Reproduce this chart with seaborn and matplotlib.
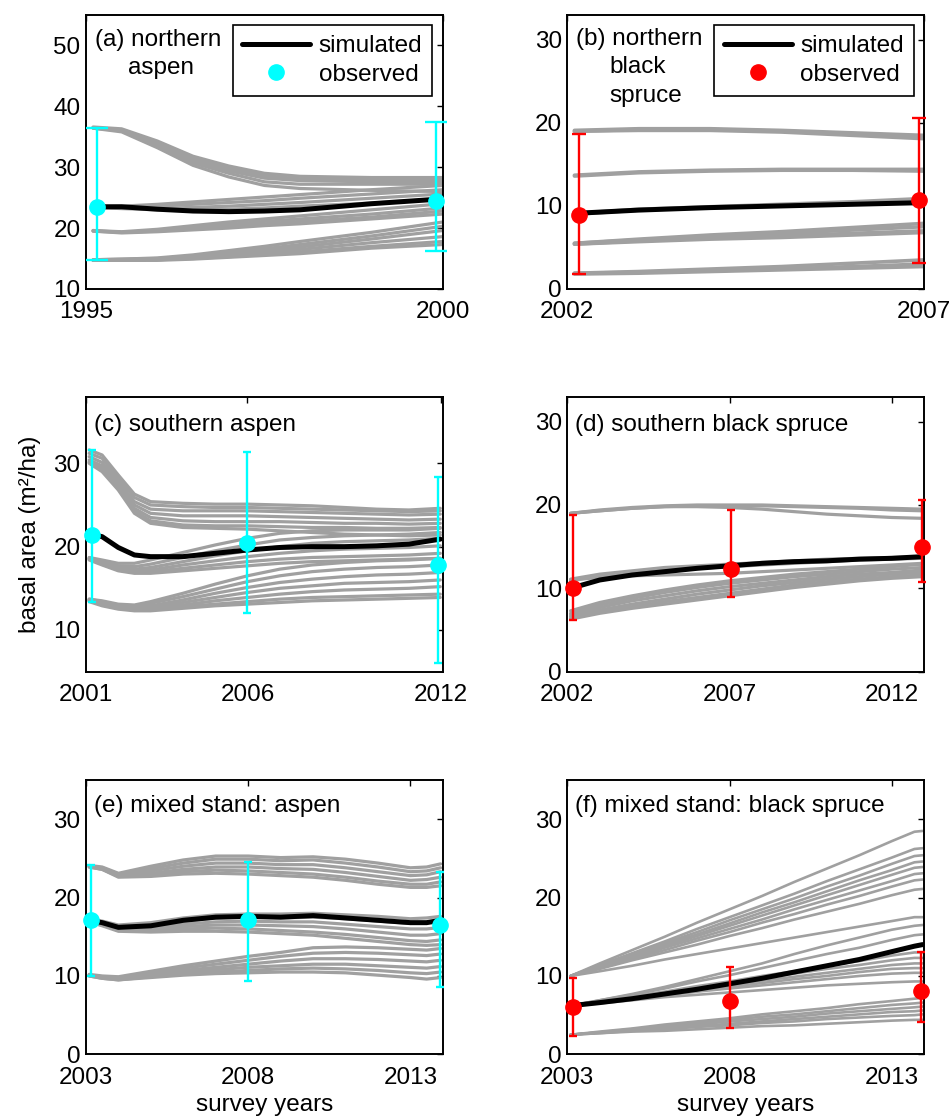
import numpy as np
import pandas as pd
import seaborn as sns
import matplotlib.pyplot as plt
from matplotlib.lines import Line2D

# ---------------- (a) northern aspen ----------------
years_a = [1995.1, 1995.5, 1996.0, 1996.5, 1997.0, 1997.5, 1998.0, 1999.0, 2000.0]
runs_a = [
    [36.6, 36.3, 34.3, 31.8, 30.2, 29.0, 28.5, 28.3, 28.3],
    [36.5, 36.1, 34.0, 31.4, 29.8, 28.6, 28.1, 28.0, 28.0],
    [36.4, 36.0, 33.7, 31.0, 29.4, 28.2, 27.8, 27.6, 27.6],
    [36.5, 36.0, 33.5, 30.7, 29.0, 27.6, 27.2, 27.2, 27.2],
    [36.4, 35.8, 33.2, 30.3, 28.4, 27.0, 26.5, 26.2, 26.0],
    [23.5, 23.6, 23.9, 24.3, 24.7, 25.1, 25.5, 26.3, 27.0],
    [23.5, 23.5, 23.6, 23.9, 24.2, 24.5, 24.9, 25.6, 26.3],
    [23.4, 23.3, 23.2, 23.4, 23.6, 23.9, 24.2, 24.9, 25.6],
    [23.4, 23.2, 23.0, 23.0, 23.1, 23.3, 23.6, 24.1, 24.8],
    [19.6, 19.4, 19.8, 20.4, 21.0, 21.5, 22.0, 23.0, 24.0],
    [19.6, 19.3, 19.6, 20.1, 20.6, 21.1, 21.5, 22.3, 23.3],
    [19.5, 19.3, 19.5, 19.9, 20.3, 20.7, 21.1, 21.8, 22.8],
    [19.5, 19.2, 19.4, 19.7, 20.0, 20.4, 20.7, 21.5, 22.3],
    [14.8, 14.9, 15.1, 15.6, 16.3, 17.0, 17.8, 19.3, 21.0],
    [14.8, 14.9, 15.0, 15.4, 16.0, 16.6, 17.3, 18.7, 20.3],
    [14.7, 14.8, 14.9, 15.3, 15.8, 16.3, 16.9, 18.2, 19.6],
    [14.7, 14.7, 14.8, 15.1, 15.5, 16.0, 16.5, 17.6, 18.6],
    [14.7, 14.7, 14.8, 15.0, 15.3, 15.7, 16.1, 17.0, 17.8],
    [14.7, 14.7, 14.7, 14.9, 15.2, 15.5, 15.8, 16.7, 17.3],
]
sim_a = [23.5, 23.5, 23.1, 22.8, 22.7, 22.8, 23.0, 24.0, 24.8]
obs_years_a = [1995.15, 1999.9]
obs_a = [23.5, 24.5]
obs_lo_a = [14.7, 16.3]
obs_hi_a = [36.5, 37.4]

# ---------------- (b) northern black spruce ----------------
years_b = [2002.1, 2003.0, 2004.0, 2005.0, 2006.0, 2007.0]
runs_b = [
    [19.1, 19.3, 19.3, 19.1, 18.8, 18.5],
    [19.0, 19.2, 19.2, 19.0, 18.7, 18.3],
    [19.0, 19.1, 19.1, 18.9, 18.5, 18.1],
    [13.7, 14.1, 14.3, 14.4, 14.4, 14.4],
    [13.6, 14.0, 14.2, 14.3, 14.3, 14.2],
    [9.1, 9.6, 9.9, 10.2, 10.5, 10.9],
    [9.0, 9.5, 9.8, 10.0, 10.3, 10.6],
    [5.5, 6.0, 6.5, 6.9, 7.4, 7.9],
    [5.5, 5.9, 6.3, 6.7, 7.1, 7.5],
    [5.4, 5.8, 6.1, 6.4, 6.7, 7.0],
    [5.4, 5.7, 6.0, 6.2, 6.5, 6.8],
    [1.9, 2.1, 2.4, 2.7, 3.1, 3.5],
    [1.9, 2.0, 2.2, 2.4, 2.7, 3.0],
    [1.8, 1.9, 2.1, 2.3, 2.5, 2.7],
]
sim_b = [9.1, 9.5, 9.8, 10.0, 10.2, 10.4]
obs_years_b = [2002.16, 2006.92]
obs_b = [8.9, 10.7]
obs_lo_b = [1.8, 3.1]
obs_hi_b = [18.7, 20.6]

# ---------------- (c) southern aspen ----------------
years_c = [2001.1, 2001.5, 2002.0, 2002.5, 2003.0, 2004.0, 2005.0, 2006.0,
           2007.0, 2008.0, 2009.0, 2010.0, 2011.0, 2011.97]
runs_c = [
    [31.6, 31.0, 28.6, 26.3, 25.4, 25.2, 25.1, 25.1, 25.0, 24.9, 24.7, 24.5, 24.4, 24.6],
    [31.2, 30.6, 28.2, 25.9, 25.0, 24.8, 24.7, 24.7, 24.6, 24.5, 24.4, 24.3, 24.2, 24.3],
    [30.8, 30.1, 27.8, 25.4, 24.5, 24.3, 24.3, 24.3, 24.2, 24.1, 24.0, 23.9, 23.8, 23.9],
    [30.4, 29.7, 27.5, 25.0, 24.0, 23.7, 23.7, 23.7, 23.6, 23.5, 23.4, 23.3, 23.2, 23.3],
    [30.2, 29.4, 27.2, 24.6, 23.5, 23.1, 23.0, 23.0, 23.0, 22.9, 22.8, 22.8, 22.7, 22.8],
    [30.1, 29.2, 27.0, 24.3, 23.1, 22.6, 22.5, 22.5, 22.4, 22.3, 22.3, 22.2, 22.2, 22.3],
    [30.0, 29.0, 26.8, 24.0, 22.8, 22.3, 22.2, 22.1, 21.9, 21.7, 21.5, 21.4, 21.3, 21.4],
    [18.7, 18.4, 18.0, 18.0, 18.4, 19.3, 20.2, 21.0, 21.6, 21.9, 22.0, 22.0, 22.0, 22.2],
    [18.6, 18.2, 17.7, 17.6, 17.9, 18.7, 19.5, 20.2, 20.8, 21.1, 21.3, 21.4, 21.5, 21.7],
    [18.6, 18.1, 17.5, 17.3, 17.5, 18.2, 18.9, 19.5, 20.0, 20.4, 20.6, 20.7, 20.8, 21.0],
    [18.5, 18.0, 17.4, 17.1, 17.2, 17.8, 18.3, 18.8, 19.2, 19.5, 19.7, 19.8, 19.9, 20.1],
    [18.5, 17.9, 17.2, 16.9, 17.0, 17.4, 17.8, 18.2, 18.5, 18.7, 18.8, 18.9, 19.0, 19.2],
    [18.4, 17.8, 17.1, 16.8, 16.8, 17.1, 17.4, 17.7, 18.0, 18.2, 18.3, 18.4, 18.5, 18.6],
    [13.7, 13.5, 13.1, 13.0, 13.4, 14.4, 15.5, 16.5, 17.3, 17.8, 18.1, 18.3, 18.4, 18.6],
    [13.7, 13.4, 13.0, 12.9, 13.2, 14.0, 14.9, 15.8, 16.5, 17.0, 17.3, 17.5, 17.6, 17.8],
    [13.6, 13.3, 12.9, 12.7, 12.9, 13.6, 14.4, 15.1, 15.7, 16.1, 16.4, 16.6, 16.7, 16.9],
    [13.6, 13.2, 12.8, 12.6, 12.7, 13.3, 13.9, 14.5, 15.0, 15.3, 15.6, 15.7, 15.8, 16.0],
    [13.5, 13.1, 12.7, 12.5, 12.6, 13.0, 13.5, 13.9, 14.3, 14.6, 14.8, 14.9, 15.0, 15.2],
    [13.5, 13.0, 12.6, 12.4, 12.4, 12.8, 13.1, 13.4, 13.7, 13.9, 14.0, 14.1, 14.2, 14.3],
    [13.4, 12.9, 12.5, 12.3, 12.3, 12.6, 12.9, 13.1, 13.3, 13.5, 13.6, 13.7, 13.8, 13.9],
]
sim_c = [21.5, 21.2, 19.9, 19.0, 18.8, 18.8, 19.2, 19.6, 19.9, 20.0, 20.0, 20.1, 20.3, 20.9]
obs_years_c = [2001.18, 2006.0, 2011.9]
obs_c = [21.4, 20.4, 17.8]
obs_lo_c = [13.3, 12.0, 6.0]
obs_hi_c = [31.6, 31.3, 28.4]

# ---------------- (d) southern black spruce ----------------
years_d = [2002.1, 2003.0, 2004.0, 2005.0, 2006.0, 2007.0, 2008.0, 2009.0,
           2010.0, 2011.0, 2012.0, 2012.95]
runs_d = [
    [19.0, 19.4, 19.7, 19.9, 20.0, 20.0, 20.0, 19.9, 19.8, 19.7, 19.6, 19.5],
    [19.0, 19.3, 19.6, 19.8, 19.9, 19.9, 19.9, 19.8, 19.7, 19.6, 19.4, 19.3],
    [19.0, 19.3, 19.6, 19.8, 19.8, 19.7, 19.5, 19.2, 18.9, 18.7, 18.5, 18.4],
    [11.1, 11.7, 12.1, 12.5, 12.7, 12.9, 13.1, 13.3, 13.5, 13.6, 13.7, 13.8],
    [10.9, 11.5, 11.9, 12.2, 12.4, 12.6, 12.8, 13.0, 13.2, 13.4, 13.5, 13.6],
    [11.0, 11.3, 11.5, 11.6, 11.7, 11.8, 12.0, 12.2, 12.4, 12.6, 12.8, 13.0],
    [7.3, 8.3, 9.1, 9.8, 10.4, 10.9, 11.3, 11.7, 12.0, 12.3, 12.6, 12.9],
    [7.0, 8.0, 8.8, 9.5, 10.1, 10.6, 11.0, 11.4, 11.7, 12.0, 12.3, 12.5],
    [6.8, 7.7, 8.5, 9.1, 9.7, 10.2, 10.6, 11.0, 11.4, 11.7, 11.9, 12.2],
    [6.6, 7.4, 8.1, 8.7, 9.3, 9.8, 10.3, 10.7, 11.1, 11.4, 11.7, 11.9],
    [6.4, 7.2, 7.8, 8.4, 8.9, 9.4, 9.9, 10.4, 10.8, 11.1, 11.4, 11.6],
    [6.3, 7.0, 7.6, 8.1, 8.6, 9.1, 9.6, 10.1, 10.5, 10.9, 11.2, 11.4],
]
sim_d = [10.0, 11.0, 11.6, 12.0, 12.4, 12.7, 13.0, 13.2, 13.3, 13.5, 13.6, 13.8]
obs_years_d = [2002.16, 2007.03, 2012.93]
obs_d = [10.0, 12.3, 14.9]
obs_lo_d = [6.2, 9.0, 10.7]
obs_hi_d = [18.8, 19.4, 20.6]

# ---------------- (e) mixed stand: aspen ----------------
years_e = [2003.1, 2003.5, 2004.0, 2005.0, 2006.0, 2007.0, 2008.0, 2009.0,
           2010.0, 2011.0, 2012.0, 2013.0, 2013.5, 2013.93]
runs_e = [
    [24.1, 23.9, 23.1, 24.0, 24.8, 25.3, 25.3, 25.1, 25.2, 24.9, 24.4, 23.8, 23.9, 24.3],
    [24.0, 23.8, 23.0, 23.7, 24.4, 24.9, 24.9, 24.7, 24.8, 24.4, 23.9, 23.3, 23.4, 23.8],
    [24.0, 23.7, 22.9, 23.4, 24.0, 24.4, 24.4, 24.2, 24.2, 23.8, 23.3, 22.8, 22.9, 23.3],
    [24.0, 23.7, 22.8, 23.1, 23.6, 23.9, 23.9, 23.7, 23.6, 23.2, 22.7, 22.2, 22.3, 22.6],
    [23.9, 23.6, 22.7, 22.9, 23.3, 23.5, 23.4, 23.2, 23.0, 22.6, 22.1, 21.7, 21.7, 22.0],
    [23.9, 23.6, 22.6, 22.7, 23.0, 23.1, 23.0, 22.8, 22.6, 22.2, 21.7, 21.3, 21.3, 21.5],
    [17.2, 17.0, 16.5, 16.8, 17.4, 17.8, 17.9, 17.9, 18.0, 17.8, 17.6, 17.3, 17.4, 17.6],
    [17.1, 16.8, 16.3, 16.5, 17.0, 17.4, 17.5, 17.4, 17.5, 17.3, 17.0, 16.7, 16.8, 17.0],
    [17.1, 16.7, 16.1, 16.2, 16.6, 16.9, 17.0, 16.9, 16.9, 16.6, 16.3, 16.0, 16.0, 16.2],
    [17.0, 16.6, 15.9, 16.0, 16.3, 16.5, 16.5, 16.4, 16.3, 16.0, 15.6, 15.2, 15.2, 15.4],
    [17.0, 16.5, 15.8, 15.8, 16.0, 16.1, 16.0, 15.8, 15.6, 15.3, 14.9, 14.5, 14.4, 14.6],
    [16.9, 16.4, 15.7, 15.6, 15.7, 15.7, 15.6, 15.4, 15.2, 14.8, 14.4, 14.0, 13.9, 14.0],
    [10.2, 10.0, 9.9, 10.6, 11.3, 11.9, 12.5, 13.0, 13.6, 13.7, 13.6, 13.4, 13.3, 13.5],
    [10.1, 9.9, 9.8, 10.4, 11.0, 11.5, 12.0, 12.5, 12.9, 13.0, 12.9, 12.7, 12.6, 12.8],
    [10.1, 9.8, 9.7, 10.2, 10.7, 11.1, 11.5, 11.9, 12.2, 12.2, 12.1, 11.9, 11.8, 12.0],
    [10.1, 9.8, 9.6, 10.0, 10.4, 10.8, 11.1, 11.3, 11.5, 11.5, 11.3, 11.1, 11.0, 11.2],
    [10.0, 9.7, 9.5, 9.9, 10.2, 10.5, 10.7, 10.9, 11.0, 10.9, 10.7, 10.4, 10.3, 10.5],
    [10.0, 9.7, 9.5, 9.8, 10.1, 10.3, 10.4, 10.5, 10.5, 10.4, 10.1, 9.8, 9.6, 9.8],
]
sim_e = [17.1, 16.8, 16.2, 16.4, 17.1, 17.5, 17.6, 17.5, 17.7, 17.4, 17.1, 16.8, 16.8, 17.1]
obs_years_e = [2003.17, 2008.0, 2013.9]
obs_e = [17.1, 17.1, 16.5]
obs_lo_e = [10.0, 9.4, 8.6]
obs_hi_e = [24.2, 24.5, 23.2]

# ---------------- (f) mixed stand: black spruce ----------------
years_f = [2003.1, 2004.0, 2005.0, 2006.0, 2007.0, 2008.0, 2009.0, 2010.0,
           2011.0, 2012.0, 2013.0, 2013.7, 2013.95]
runs_f = [
    [10.0, 11.6, 13.3, 15.0, 16.8, 18.5, 20.2, 22.0, 23.7, 25.4, 27.2, 28.4, 28.5],
    [10.0, 11.4, 12.9, 14.4, 16.0, 17.5, 19.0, 20.5, 22.1, 23.6, 25.1, 26.2, 26.3],
    [10.0, 11.3, 12.7, 14.2, 15.6, 17.1, 18.5, 19.9, 21.4, 22.8, 24.3, 25.3, 25.4],
    [10.0, 11.2, 12.6, 14.0, 15.3, 16.7, 18.1, 19.4, 20.8, 22.2, 23.5, 24.5, 24.6],
    [10.0, 11.2, 12.5, 13.8, 15.1, 16.4, 17.7, 19.0, 20.3, 21.6, 22.9, 23.8, 23.9],
    [10.0, 11.1, 12.3, 13.6, 14.8, 16.0, 17.2, 18.5, 19.7, 20.9, 22.1, 23.0, 23.1],
    [10.0, 11.0, 12.2, 13.3, 14.5, 15.6, 16.8, 17.9, 19.1, 20.2, 21.4, 22.2, 22.3],
    [10.0, 10.9, 12.0, 13.0, 14.0, 15.1, 16.1, 17.2, 18.2, 19.2, 20.3, 21.0, 21.1],
    [10.0, 10.6, 11.3, 12.1, 12.8, 13.5, 14.2, 14.9, 15.6, 16.3, 17.0, 17.5, 17.5],
    [6.2, 6.9, 7.7, 8.6, 9.6, 10.6, 11.6, 12.8, 13.9, 14.9, 15.9, 16.4, 16.5],
    [6.2, 6.9, 7.6, 8.4, 9.3, 10.1, 11.0, 11.9, 12.8, 13.6, 14.6, 15.2, 15.3],
    [6.2, 6.8, 7.4, 8.0, 8.7, 9.3, 10.0, 10.6, 11.3, 11.9, 12.6, 13.0, 13.0],
    [6.2, 6.8, 7.3, 7.9, 8.5, 9.1, 9.7, 10.3, 10.9, 11.4, 12.0, 12.3, 12.3],
    [6.2, 6.7, 7.2, 7.8, 8.3, 8.8, 9.4, 9.9, 10.4, 10.9, 11.4, 11.6, 11.6],
    [6.2, 6.7, 7.2, 7.7, 8.2, 8.6, 9.1, 9.6, 10.0, 10.5, 10.9, 11.0, 11.0],
    [6.2, 6.6, 7.1, 7.5, 8.0, 8.4, 8.8, 9.2, 9.6, 10.0, 10.3, 10.4, 10.4],
    [6.2, 6.5, 6.9, 7.3, 7.6, 7.9, 8.2, 8.5, 8.8, 9.0, 9.2, 9.3, 9.3],
    [2.5, 2.9, 3.3, 3.8, 4.2, 4.6, 5.1, 5.5, 5.9, 6.4, 6.8, 7.1, 7.2],
    [2.5, 2.8, 3.2, 3.6, 4.0, 4.4, 4.8, 5.1, 5.5, 5.9, 6.3, 6.5, 6.6],
    [2.5, 2.8, 3.2, 3.5, 3.8, 4.2, 4.5, 4.8, 5.2, 5.5, 5.8, 6.0, 6.1],
    [2.5, 2.8, 3.1, 3.4, 3.6, 3.9, 4.2, 4.5, 4.8, 5.1, 5.4, 5.5, 5.6],
    [2.5, 2.7, 3.0, 3.2, 3.5, 3.7, 4.0, 4.2, 4.5, 4.7, 4.9, 5.0, 5.1],
    [2.5, 2.7, 2.9, 3.0, 3.2, 3.4, 3.6, 3.7, 3.9, 4.1, 4.3, 4.4, 4.4],
]
sim_f = [6.2, 6.6, 7.1, 7.7, 8.3, 9.0, 9.7, 10.5, 11.3, 12.1, 13.1, 13.8, 14.0]
obs_years_f = [2003.17, 2008.0, 2013.9]
obs_f = [6.1, 6.8, 8.1]
obs_lo_f = [2.4, 3.3, 4.1]
obs_hi_f = [9.8, 11.1, 13.0]

GRAY = '#a0a0a0'
CYAN = '#00ffff'
RED = '#ff0000'
FS = 17.5

sns.set_style('white')
plt.rcParams['font.family'] = ['Liberation Sans', 'DejaVu Sans']
plt.rcParams['text.color'] = 'k'
plt.rcParams['axes.labelcolor'] = 'k'
plt.rcParams['xtick.color'] = 'k'
plt.rcParams['ytick.color'] = 'k'


def to_long(years, runs):
    rows = []
    for i, run in enumerate(runs):
        for t, v in zip(years, run):
            rows.append((i, t, v))
    return pd.DataFrame(rows, columns=['run', 'year', 'ba'])


def draw_panel(ax, years, runs, sim, oy, ov, olo, ohi, color, cap,
               xlim, ylim, xticks, yticks, labels, gray_lw=2.3):
    df = to_long(years, runs)
    sns.lineplot(data=df, x='year', y='ba', units='run', estimator=None,
                 color=GRAY, lw=gray_lw, ax=ax, legend=False)
    sns.lineplot(x=years, y=sim, color='k', lw=3.6, ax=ax)
    ov = np.array(ov)
    yerr = [ov - np.array(olo), np.array(ohi) - ov]
    ax.errorbar(oy, ov, yerr=yerr, fmt='o', color=color, ms=11,
                elinewidth=1.7, capthick=1.7, capsize=cap, zorder=5,
                clip_on=False)
    ax.set_xlim(*xlim)
    ax.set_ylim(*ylim)
    ax.set_xticks(xticks)
    ax.set_yticks(yticks)
    ax.set_xlabel('')
    ax.set_ylabel('')
    ax.tick_params(direction='in', top=True, right=True, length=4, width=1,
                   labelsize=FS, colors='k')
    ax.tick_params(axis='x', pad=9)
    ax.tick_params(axis='y', pad=4)
    for s in ax.spines.values():
        s.set_color('k')
        s.set_linewidth(1.4)
    for x, y, txt in labels:
        ax.text(x, y, txt, transform=ax.transAxes, fontsize=FS,
                va='baseline', ha='left', color='k')


fig = plt.figure(figsize=(9.53, 11.17), dpi=100)
lefts = [0.0902, 0.5953]
width = 0.3745
bottoms = [0.7413, 0.3987, 0.0561]
heights = [0.2453, 0.2462, 0.2456]

ax_a = fig.add_axes([lefts[0], bottoms[0], width, heights[0]])
ax_b = fig.add_axes([lefts[1], bottoms[0], width, heights[0]])
ax_c = fig.add_axes([lefts[0], bottoms[1], width, heights[1]])
ax_d = fig.add_axes([lefts[1], bottoms[1], width, heights[1]])
ax_e = fig.add_axes([lefts[0], bottoms[2], width, heights[2]])
ax_f = fig.add_axes([lefts[1], bottoms[2], width, heights[2]])

draw_panel(ax_a, years_a, runs_a, sim_a, obs_years_a, obs_a, obs_lo_a, obs_hi_a,
           CYAN, 8, (1995, 2000), (10, 55), [1995, 2000], [10, 20, 30, 40, 50],
           [(0.025, 0.887, '(a) northern'), (0.118, 0.785, 'aspen')])
draw_panel(ax_b, years_b, runs_b, sim_b, obs_years_b, obs_b, obs_lo_b, obs_hi_b,
           RED, 4.7, (2002, 2007), (0, 33), [2002, 2007], [0, 10, 20, 30],
           [(0.024, 0.891, '(b) northern'), (0.118, 0.787, 'black'),
            (0.118, 0.684, 'spruce')], gray_lw=2.6)
draw_panel(ax_c, years_c, runs_c, sim_c, obs_years_c, obs_c, obs_lo_c, obs_hi_c,
           CYAN, 2.6, (2001, 2012.05), (5, 38), [2001, 2006, 2012], [10, 20, 30],
           [(0.022, 0.875, '(c) southern aspen')])
draw_panel(ax_d, years_d, runs_d, sim_d, obs_years_d, obs_d, obs_lo_d, obs_hi_d,
           RED, 2.6, (2002, 2013), (0, 33), [2002, 2007, 2012], [0, 10, 20, 30],
           [(0.022, 0.875, '(d) southern black spruce')])
draw_panel(ax_e, years_e, runs_e, sim_e, obs_years_e, obs_e, obs_lo_e, obs_hi_e,
           CYAN, 2.6, (2003, 2014), (0, 35), [2003, 2008, 2013], [0, 10, 20, 30],
           [(0.022, 0.884, '(e) mixed stand: aspen')])
draw_panel(ax_f, years_f, runs_f, sim_f, obs_years_f, obs_f, obs_lo_f, obs_hi_f,
           RED, 2.6, (2003, 2014), (0, 35), [2003, 2008, 2013], [0, 10, 20, 30],
           [(0.022, 0.884, '(f) mixed stand: black spruce')], gray_lw=1.9)

# legends for the top row
for ax, c in [(ax_a, CYAN), (ax_b, RED)]:
    handles = [Line2D([], [], color='k', lw=3.6),
               Line2D([], [], color=c, marker='o', ms=11, ls='none')]
    leg = ax.legend(handles, ['simulated', 'observed'], loc='upper right',
                    bbox_to_anchor=(0.97, 0.962), borderaxespad=0,
                    fontsize=FS, frameon=True, fancybox=False,
                    handlelength=2.8, handletextpad=0.35, borderpad=0.4,
                    labelspacing=0.28)
    leg.get_frame().set_edgecolor('k')
    leg.get_frame().set_linewidth(1.2)
    leg.get_frame().set_alpha(1)

ax_c.set_ylabel('basal area (m\u00b2/ha)', fontsize=FS)
ax_c.yaxis.set_label_coords(-0.125, 0.5)

for ax in (ax_e, ax_f):
    ax.set_xlabel('survey years', fontsize=FS)
    ax.xaxis.label.set_va('baseline')
    ax.xaxis.set_label_coords(0.5, -0.205)

fig.savefig('out.png', dpi=100)
